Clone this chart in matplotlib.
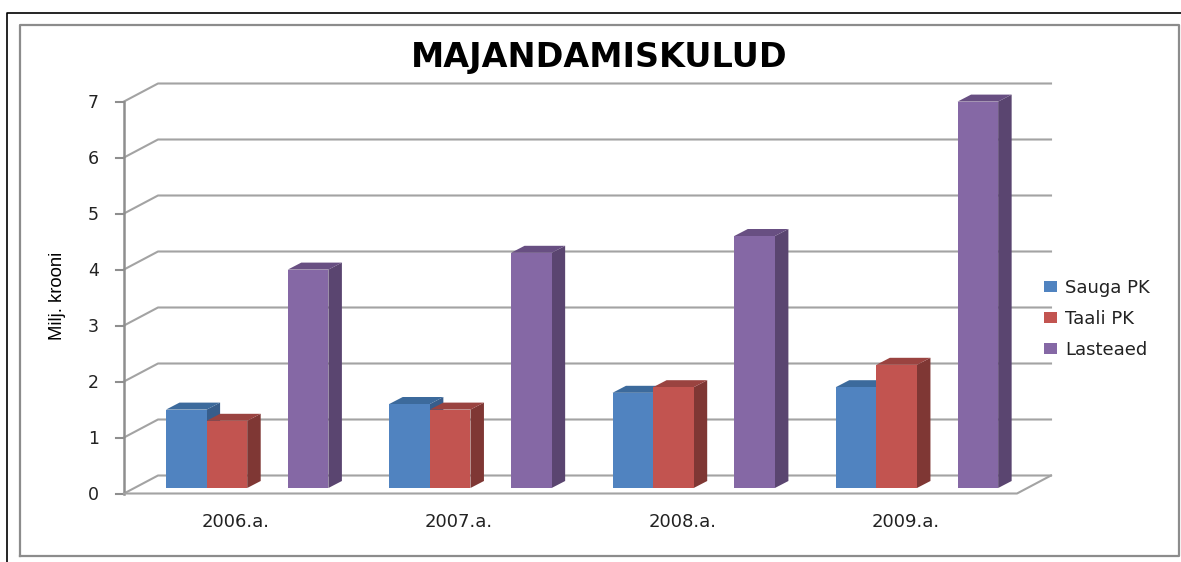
import matplotlib
matplotlib.use('Agg')
from matplotlib import pyplot as plt
from matplotlib.patches import Polygon, Patch
from matplotlib.lines import Line2D

years = ['2006.a.', '2007.a.', '2008.a.', '2009.a.']
series = ['Sauga PK', 'Taali PK', 'Lasteaed']
sauga = [1.4, 1.5, 1.7, 1.8]
taali = [1.2, 1.4, 1.8, 2.2]
lasteaed = [3.9, 4.2, 4.5, 6.9]
yticks = [0, 1, 2, 3, 4, 5, 6, 7]

W, H = 1181, 562
# one category = 223.25 px, one krooni = 56 px
XU, YU = 223.25, 56.0
X0, Y0 = 124.0, 493.5

fig = plt.figure(figsize=(W / 100, H / 100), dpi=100, facecolor='white')
ax = fig.add_axes([0, 0, 1, 1])
ax.set_xlim(-X0 / XU, (W - X0) / XU)
ax.set_ylim(-(H - Y0) / YU, Y0 / YU)
ax.axis('off')

# wall depth and bar depth, in data units
wx, wy = 34 / XU, 18 / YU
bx, by = 13.5 / XU, 7 / YU
# bars stand a bit in front of the back wall
fx, fy = 10.5 / XU, 5.5 / YU
slot = 40.6 / XU
start = 31.5 / XU
grey = '#a3a3a3'
axis_grey = '#8e8e8e'

# walls
for v in yticks:
    ax.plot([0, wx, 4 + wx], [v, v + wy, v + wy], color=grey, lw=1.5, zorder=1)
    ax.plot([-8 / XU, 0], [v, v], color=axis_grey, lw=1.5, zorder=2)
ax.plot([0, 0], [0, 7], color=axis_grey, lw=1.8, zorder=2)
ax.plot([0, 4, 4 + wx], [0, 0, wy], color=grey, lw=1.5, zorder=2)


def bar3d(x, v, front, top, side):
    x0 = x + fx
    y0 = fy
    x1 = x0 + slot
    y1 = y0 + v
    ax.add_patch(Polygon([(x1, y0), (x1 + bx, y0 + by), (x1 + bx, y1 + by), (x1, y1)],
                         fc=side, ec='none', zorder=3))
    ax.add_patch(Polygon([(x0, y1), (x0 + bx, y1 + by), (x1 + bx, y1 + by), (x1, y1)],
                         fc=top, ec='none', zorder=3))
    ax.add_patch(Polygon([(x0, y0), (x1, y0), (x1, y1), (x0, y1)],
                         fc=front, ec='none', zorder=3))


colors = [('#5083c0', '#3c6a9c', '#375d8b'),
          ('#c25450', '#9a4340', '#7f3734'),
          ('#8568a5', '#684f82', '#5a4570')]
# the gap before Lasteaed is an empty slot in the group
slots = [0, 1, 3]
for i in range(len(years)):
    for values, s, c in zip([sauga, taali, lasteaed], slots, colors):
        bar3d(i + start + s * slot, values[i], c[0], c[1], c[2])
    ax.text(i + 0.5, -(522 - Y0) / YU, years[i], ha='center', va='center',
            fontsize=13, color='#222222')

for v in yticks:
    ax.text(-(124 - 99) / XU, v - 0.02, str(v), ha='right', va='center', fontsize=12.5, color='#222222')

ax.text(-(124 - 57) / XU, (Y0 - 296) / YU, 'Milj. krooni', rotation=90, ha='center', va='center',
        fontsize=13.3, color='black', family=['Liberation Sans'])
ax.text((599 - X0) / XU, (Y0 - 58) / YU, 'MAJANDAMISKULUD', ha='center', va='center',
        fontsize=24, fontweight='bold', color='black')

handles = [Patch(fc=c[0], ec='none') for c in colors]
leg = ax.legend(handles, series, loc='center left', bbox_to_anchor=(1028 / W, 1 - 319 / H),
                bbox_transform=fig.transFigure, frameon=False, fontsize=13,
                handlelength=0.72, handleheight=0.58, handletextpad=0.45, labelspacing=0.72,
                labelcolor='#222222')

# outer frames
fig.add_artist(Line2D([6.5 / W, 6.5 / W, 1], [0, 1 - 12.5 / H, 1 - 12.5 / H], color='black', lw=1.2))
fig.add_artist(Line2D([19.5 / W, 19.5 / W, 1179 / W, 1179 / W, 19.5 / W],
                      [1 - 556 / H, 1 - 25 / H, 1 - 25 / H, 1 - 556 / H, 1 - 556 / H],
                      color='#8c8c8c', lw=1.6))

fig.savefig('out.png', dpi=100)
